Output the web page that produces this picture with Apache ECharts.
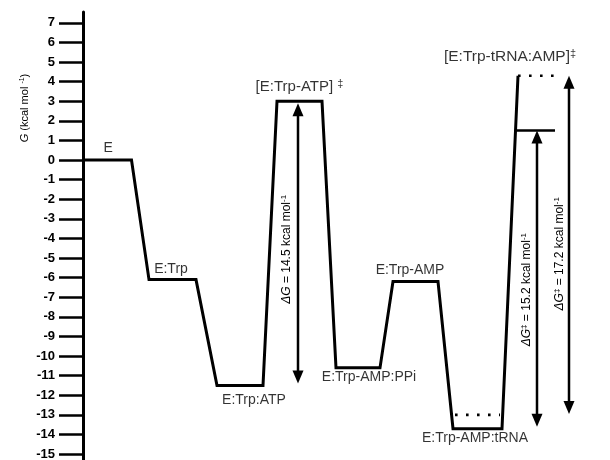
<!DOCTYPE html>
<html>
<head>
<meta charset="utf-8">
<script src="https://cdn.jsdelivr.net/npm/echarts@6/dist/echarts.min.js"></script>
<style>
html,body{margin:0;padding:0;background:#fff;}
#chart{width:610px;height:460px;}
</style>
</head>
<body>
<div id="chart"></div>
<script>
// ---- data ----
const stateNames = ['E', 'E:Trp', 'E:Trp:ATP', '[E:Trp-ATP] ‡', 'E:Trp-AMP:PPi', 'E:Trp-AMP', 'E:Trp-AMP:tRNA', '[E:Trp-tRNA:AMP]‡'];
const stateG = [0, -6.1, -11.5, 3.0, -10.6, -6.2, -13.7, 4.3];           // kcal/mol
const stateXStart = [0, 13.2, 26.8, 38.8, 50.6, 62, 74, 87];             // reaction coordinate
const stateXEnd = [9.7, 22.6, 36, 47.8, 59.4, 71, 83.8, 87];

const refLevelG = [-13.0, 1.5, 4.3];
const refLevelXStart = [74.4, 86.5, 87];
const refLevelXEnd = [83.4, 94.4, 95.8];

const barrierNames = ['ΔG', 'ΔG‡', 'ΔG‡'];
const barrierValues = ['14.5', '15.2', '17.2'];
const barrierX = [43, 90.8, 97.2];
const barrierLow = [-11.4, -13.6, -12.95];
const barrierHigh = [2.9, 1.5, 4.3];

const yTicks = [-15,-14,-13,-12,-11,-10,-9,-8,-7,-6,-5,-4,-3,-2,-1,0,1,2,3,4,5,6,7];

// ---- styles (not data) ----
const FONT = 'Liberation Sans, Arial, Helvetica, sans-serif';
const refLevelDash = [[2.6, 8.4], 'solid', [2.6, 8.4]];
const stateLabelOffset = [[1,-12],[-1.5,-10],[14,15],[0,-14],[11,9],[-5.5,-11.5],[-2.5,9.5],[-8,-19]];
const stateLabelSize = [14, 14, 14, 15, 14, 14, 14, 15.5];
const barrierTextOffset = [[-11, 6], [-10, 11], [-9, 9]];

// build path
const pathData = [];
stateG.forEach((g, i) => {
  pathData.push([stateXStart[i], g]);
  if (stateXEnd[i] !== stateXStart[i]) pathData.push([stateXEnd[i], g]);
});

const refSeries = refLevelG.map((g, i) => ({
  type: 'line', symbol: 'none', silent: true, z: 3,
  data: [[refLevelXStart[i], g], [refLevelXEnd[i], g]],
  lineStyle: { color: '#000', width: refLevelDash[i] === 'solid' ? 2.5 : 2.6, type: refLevelDash[i], cap: 'butt' }
}));

const labelData = stateNames.map((n, i) => ({
  value: [(stateXStart[i] + stateXEnd[i]) / 2, stateG[i]],
  name: n,
  label: {
    offset: stateLabelOffset[i],
    rich: {
      s: { fontSize: Math.round(stateLabelSize[i] * 0.7), fontFamily: FONT, color: '#000', verticalAlign: 'top', lineHeight: stateLabelSize[i] + 2 },
      t: { fontSize: stateLabelSize[i], fontFamily: FONT, color: '#000', lineHeight: stateLabelSize[i] + 2 }
    }
  }
}));

const barrierData = barrierX.map((x, i) => [x, barrierLow[i], barrierHigh[i], i]);

const chart = echarts.init(document.getElementById('chart'), null, { renderer: 'canvas' });
chart.setOption({
  backgroundColor: '#fff',
  animation: false,
  grid: { left: 83, right: 7, top: 12, bottom: 0, containLabel: false, outerBoundsMode: 'none' },
  xAxis: { type: 'value', min: 0, max: 104, show: false },
  yAxis: {
    type: 'value', min: -15.3, max: 7.55,
    axisLine: { show: true, lineStyle: { color: '#000', width: 3 } },
    axisTick: { show: true, length: 24, customValues: yTicks, lineStyle: { color: '#000', width: 2.5 } },
    axisLabel: { customValues: yTicks, margin: 28, fontSize: 13, fontWeight: 'bold', fontFamily: FONT, color: '#000' },
    splitLine: { show: false }
  },
  graphic: [{
    type: 'text', x: 25, y: 108, rotation: Math.PI / 2,
    style: {
      text: '{i|G}{t| (kcal mol }{s|-1}{t|)}',
      align: 'center', verticalAlign: 'middle',
      rich: {
        i: { fontStyle: 'italic', fontSize: 11, fontFamily: FONT, fill: '#000' },
        t: { fontSize: 11, fontFamily: FONT, fill: '#000' },
        s: { fontSize: 7, fontFamily: FONT, fill: '#000', verticalAlign: 'top', lineHeight: 13 }
      }
    }
  }],
  series: [
    {
      type: 'line', symbol: 'none', silent: true, z: 4,
      data: pathData,
      lineStyle: { color: '#000', width: 3, join: 'miter' }
    },
    ...refSeries,
    {
      type: 'scatter', symbolSize: 0, silent: true, z: 5,
      data: labelData,
      label: {
        show: true, position: 'inside',
        formatter: p => '{t|' + p.name.replace('‡', '}{s|‡}{t|') + '}',
        fontSize: 14, fontFamily: FONT, color: '#000'
      }
    },
    {
      type: 'custom', silent: true, z: 6,
      data: barrierData,
      renderItem: function (params, api) {
        const x = api.value(0), lo = api.value(1), hi = api.value(2), idx = api.value(3);
        const pLo = api.coord([x, lo]);
        const pHi = api.coord([x, hi]);
        const hw = 5.5, hl = 13;
        const px = pLo[0];
        const name = barrierNames[idx];
        const txt = name === 'ΔG'
          ? '{i|ΔG}{t| = ' + barrierValues[idx] + ' kcal mol}{s|-1}'
          : '{i|ΔG}{s|‡}{t| = ' + barrierValues[idx] + ' kcal mol}{s|-1}';
        const off = barrierTextOffset[idx];
        return {
          type: 'group',
          children: [
            { type: 'line', shape: { x1: px, y1: pHi[1] + hl - 1, x2: px, y2: pLo[1] - hl + 1 }, style: { stroke: '#000', lineWidth: 2.5 } },
            { type: 'polygon', shape: { points: [[px, pHi[1]], [px - hw, pHi[1] + hl], [px + hw, pHi[1] + hl]] }, style: { fill: '#000' } },
            { type: 'polygon', shape: { points: [[px, pLo[1]], [px - hw, pLo[1] - hl], [px + hw, pLo[1] - hl]] }, style: { fill: '#000' } },
            {
              type: 'text', x: px + off[0], y: (pLo[1] + pHi[1]) / 2 + off[1], rotation: Math.PI / 2,
              style: {
                text: txt, align: 'center', verticalAlign: 'middle',
                rich: {
                  i: { fontStyle: 'italic', fontSize: 12, fontFamily: FONT, fill: '#000' },
                  t: { fontSize: 12, fontFamily: FONT, fill: '#000' },
                  s: { fontSize: 8, fontFamily: FONT, fill: '#000', verticalAlign: 'top', lineHeight: 14 }
                }
              }
            }
          ]
        };
      }
    }
  ]
});
</script>
</body>
</html>
